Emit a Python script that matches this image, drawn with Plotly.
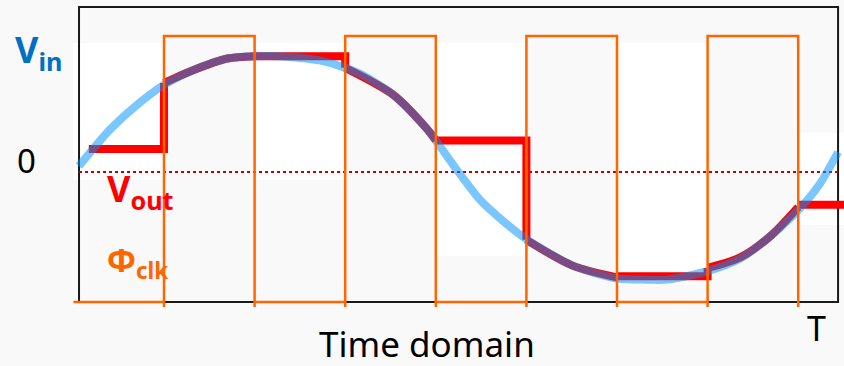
import plotly.graph_objects as go

# ---------------- data ----------------
# time axis: unit = half clock period; voltage: 0 = dotted reference line
vin_t = [0.06, 0.22, 0.40, 0.65, 0.99, 1.32, 1.70, 2.06, 2.42, 2.80, 3.16, 3.53,
         3.90, 4.23, 4.49, 4.79, 5.01, 5.51, 6.00, 6.33, 6.55, 6.99, 7.36,
         7.69, 8.02, 8.24, 8.44]
vin_v = [0.05, 0.20, 0.36, 0.54, 0.74, 0.87, 0.97, 0.99, 0.98, 0.94, 0.84, 0.66,
         0.37, 0.02, -0.24, -0.45, -0.58, -0.80, -0.91, -0.92, -0.92, -0.85, -0.74,
         -0.55, -0.31, -0.10, 0.17]

# clock
clk_start = 0.0
clk_edges = [1, 2, 3, 4, 5, 6, 7, 8]          # rising, falling, rising, ...
clk_high = 1.162
clk_low = -1.111
clk_tick = -1.154

# Vout hold phases: (start, end, held value, value after the edge)
hold_start = [0.17, 2.0, 4.0, 6.0, 8.0]
hold_end = [1.0, 3.0, 5.0, 7.0, 8.51]
hold_val = [0.197, 0.99, 0.27, -0.89, -0.28]
hold_next = [0.76, 0.89, -0.58, -0.82, None]

# Vout track phases
track_t = [[1.0, 1.32, 1.70, 2.0],
           [3.0, 3.53, 3.90, 4.0],
           [5.0, 5.51, 6.0],
           [7.0, 7.36, 7.69, 8.0]]
track_v = [[0.76, 0.87, 0.97, 0.99],
           [0.89, 0.66, 0.37, 0.27],
           [-0.58, -0.80, -0.90],
           [-0.82, -0.73, -0.55, -0.30]]

frame_t = [0.062, 8.44]
frame_v = [-1.111, 1.410]

# white backing boxes behind clock-low intervals
box_t0 = [0.0, 2.0, 4.0, 6.0, 8.0]
box_t1 = [1.0, 3.0, 5.0, 7.0, 8.6]
box_v_top = [1.103, 1.103, 1.103, 1.103, 0.333]
box_v_bot = [-0.068, -0.068, -0.718, -0.966, -0.453]

W, H = 844, 366
T0_PX, T_UNIT = 73.4, 90.6
V0_PX, V_UNIT = 172.0, 117.0
x_range = [-T0_PX / T_UNIT, (W - T0_PX) / T_UNIT]
y_range = [(V0_PX - H) / V_UNIT, V0_PX / V_UNIT]

RED = "#FF0000"
ORANGE = "#FF6600"
BLUE_TXT = "#0070C0"
FONT = "Noto Sans"

fig = go.Figure()

# dotted zero line
fig.add_trace(go.Scatter(x=frame_t, y=[0, 0], mode="lines",
                         line=dict(color="#C00000", width=2, dash="dot"),
                         hoverinfo="skip", showlegend=False))

# Vout hold segments
hx, hy = [], []
for s, e, v, n in zip(hold_start, hold_end, hold_val, hold_next):
    hx += [s, e]
    hy += [v, v]
    if n is not None:
        hx += [e]
        hy += [n]
    hx.append(None)
    hy.append(None)
fig.add_trace(go.Scatter(x=hx, y=hy, mode="lines",
                         line=dict(color=RED, width=8),
                         hoverinfo="skip", showlegend=False))
# Vout track segments
for tt, vv in zip(track_t, track_v):
    fig.add_trace(go.Scatter(x=tt, y=vv, mode="lines",
                             line=dict(color=RED, width=8, shape="spline", smoothing=0.8),
                             hoverinfo="skip", showlegend=False))

# Vin
fig.add_trace(go.Scatter(x=vin_t, y=vin_v, mode="lines",
                         line=dict(color="rgba(0,145,255,0.52)", width=8,
                                   shape="spline", smoothing=0.7),
                         hoverinfo="skip", showlegend=False))

# clock
cx, cy = [clk_start], [clk_low]
level = clk_low
for e in clk_edges:
    cx.append(e)
    cy.append(level)
    level = clk_high if level == clk_low else clk_low
    cx.append(e)
    cy.append(level)
for e in clk_edges:
    cx += [None, e, e]
    cy += [None, clk_low, clk_tick]
fig.add_trace(go.Scatter(x=cx, y=cy, mode="lines",
                         line=dict(color=ORANGE, width=2.5),
                         hoverinfo="skip", showlegend=False))

shapes = []
for a, b, top, bot in zip(box_t0, box_t1, box_v_top, box_v_bot):
    shapes.append(dict(type="rect", xref="x", yref="y", x0=a, x1=b, y0=bot, y1=top,
                       fillcolor="white", line=dict(width=0), layer="below"))
shapes.append(dict(type="rect", xref="x", yref="y", x0=frame_t[0], x1=frame_t[1],
                   y0=frame_v[0], y1=frame_v[1], line=dict(color="#1a1a1a", width=2),
                   layer="below"))


def px(x, y):
    return x / W, 1 - y / H


anns = []


def ann(text, x, y, size, color, xanchor="left", yanchor="middle"):
    ax, ay = px(x, y)
    anns.append(dict(text=text, x=ax, y=ay, xref="paper", yref="paper",
                     xanchor=xanchor, yanchor=yanchor, showarrow=False, borderpad=0,
                     font=dict(family=FONT, size=size, color=color)))


ann("<b>V<sub>in</sub></b>", 14, 52, 36, BLUE_TXT)
ann("0", 26, 160, 33, "black", xanchor="center")
ann("<b>V<sub>out</sub></b>", 106, 190, 36, RED)
ann("<b>Φ<sub>clk</sub></b>", 106, 262, 32, ORANGE)
ann("Time domain", 427, 343, 35, "black", xanchor="center")
ann("T", 816, 328, 34, "black", xanchor="center")

fig.update_layout(
    width=W, height=H,
    margin=dict(l=0, r=0, t=0, b=0),
    paper_bgcolor="#F9F9F9", plot_bgcolor="rgba(0,0,0,0)",
    xaxis=dict(range=x_range, visible=False, fixedrange=True),
    yaxis=dict(range=y_range, visible=False, fixedrange=True),
    shapes=shapes, annotations=anns, showlegend=False,
)

fig.write_html("out.html",
               config={"displayModeBar": False},
               post_script="document.body.style.margin='0px';"
                           "document.body.style.overflow='hidden';"
                           "document.body.style.background='#F9F9F9';")
